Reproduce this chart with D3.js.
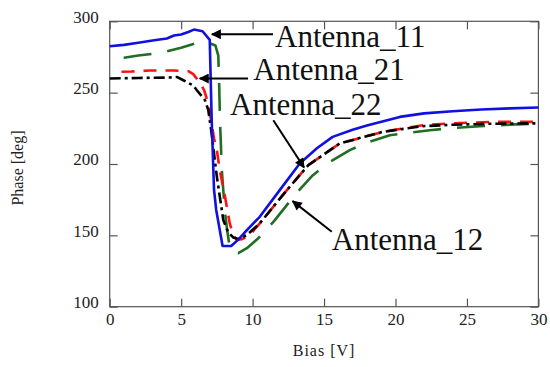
<!DOCTYPE html>
<html>
<head>
<meta charset="utf-8">
<script src="https://cdn.jsdelivr.net/npm/d3@7"></script>
<style>
  body { margin: 0; background: #fff; }
</style>
</head>
<body>
<div id="chart"></div>
<script>
// bias [V] and phase [deg]
var bias11 = [0, 1, 2, 3, 4, 4.5, 5, 5.5, 5.9, 6.5, 7.0, 7.14, 7.3, 7.45, 7.9, 8.5, 9.0, 9.6, 10.5, 11.9, 13.3, 14.5, 15.6, 17, 18, 20.3, 22, 24, 26, 28, 30];
var phase11 = [282.5, 283.5, 285, 286.5, 288, 290, 290.8, 292.5, 294.2, 293, 287, 230, 182, 168, 142.5, 142.5, 147, 153.7, 163, 181.7, 200.4, 211, 219, 224, 227, 233, 235.5, 237, 238.2, 239, 239.6];

var bias12 = [0, 1, 2, 3, 4, 5, 6, 6.7, 7.4, 7.6, 7.65, 7.72, 7.85, 8.05, 8.2, 8.35, 8.45, 9.0, 9.6, 10.4, 11.5, 13.1, 14.2, 15.4, 16.8, 18, 19.6, 21, 22.4, 24, 25.9, 28, 30];
var phase12 = [274, 274.5, 276, 277.2, 279, 281.5, 284.5, 285.8, 283, 276, 260, 230, 195, 168, 155, 145, 139.5, 137.5, 141, 148, 160, 180, 192, 201.5, 209.7, 215, 220.2, 222, 223.7, 225.2, 226.5, 227.6, 228.4];

var bias21 = [0.2, 1.5, 2.8, 4.45, 5.5, 5.85, 6.3, 6.6, 6.9, 7.1, 7.3, 7.5, 7.7, 8.07, 8.4, 8.65, 8.9, 9.3, 9.8, 10.5, 12.4, 13.9, 16.1, 19.1, 21.9, 24, 26.6, 30];
var phase21 = [264.5, 264.8, 265.5, 265.5, 265, 263, 257, 252, 242.4, 230, 218, 209.7, 195.7, 177, 158.4, 150, 146.7, 147.5, 150.2, 158.4, 181.7, 199.2, 214.4, 222.5, 227.2, 228.5, 229.5, 229.5];

var bias22 = [0, 2, 4.2, 4.7, 5.15, 5.85, 6.1, 6.67, 6.9, 7.1, 7.5, 7.95, 8.3, 8.65, 9.0, 9.6, 10.5, 12.4, 13.9, 16.1, 19.1, 21.9, 24, 26.6, 30];
var phase22 = [259.9, 260.3, 260.6, 261, 258.7, 255, 251.7, 244.7, 237.7, 223.7, 191, 160.7, 152, 148.5, 147.5, 150.2, 158.4, 181.7, 199.2, 214.4, 222.5, 226.5, 227.5, 228.2, 228.5];

var xTicks = [0, 5, 10, 15, 20, 25, 30];
var yTicks = [100, 150, 200, 250, 300];

// label text, text anchor, arrow start, arrow tip (data units)
var labelNames = ["Antenna_11", "Antenna_21", "Antenna_22", "Antenna_12"];
var labelAt = [[11.57, 281.8], [10.05, 258.7], [8.42, 234.2], [15.54, 139.7]];
var arrowFrom = [[11.43, 290.9], [9.68, 259.9], [11.45, 230.7], [15.54, 152.5]];
var arrowTo = [[7.15, 290.9], [6.3, 259.9], [13.6, 197.5], [12.8, 174]];

var serif = "'Liberation Serif', 'Times New Roman', Times, serif";
var w = 550, h = 367;
var margin = { left: 109.7, right: 11.6, top: 21.3, bottom: 60.3 };

var svg = d3.select("#chart").append("svg").attr("width", w).attr("height", h);

var x = d3.scaleLinear().domain([0, 30]).range([margin.left, w - margin.right]);
var y = d3.scaleLinear().domain([100, 300]).range([h - margin.bottom, margin.top]);

var zip = function (xs, ys) {
    return xs.map(function (d, i) { return [d, ys[i]]; });
};

var series = [
    { data: zip(bias12, phase12), color: "#1f6e23", dash: "28,16", offset: 30 },
    { data: zip(bias21, phase21), color: "#ff1010", dash: "13,9", offset: 13 },
    { data: zip(bias22, phase22), color: "#000", dash: "11,4,3,4", offset: 0 },
    { data: zip(bias11, phase11), color: "#1010e0", dash: null, offset: 0 }
];

var line = d3.line()
    .x(function (d) { return x(d[0]); })
    .y(function (d) { return y(d[1]); });

// axes, ticks point inwards on all four sides
var styleAxis = function (g) {
    g.attr("font-family", null);
    g.select(".domain").remove();
    g.selectAll(".tick line").attr("stroke", "#555").attr("stroke-width", 1.2);
    g.selectAll(".tick text")
        .style("font-family", serif)
        .style("font-size", "17px")
        .attr("fill", "#222");
};

svg.append("g")
    .attr("transform", "translate(0," + y(100) + ")")
    .call(d3.axisBottom(x).tickValues(xTicks).tickSizeInner(-8).tickSizeOuter(0).tickPadding(6))
    .call(styleAxis);

svg.append("g")
    .attr("transform", "translate(0," + y(300) + ")")
    .call(d3.axisTop(x).tickValues(xTicks).tickSizeInner(-8).tickSizeOuter(0).tickFormat(""))
    .call(styleAxis);

svg.append("g")
    .attr("transform", "translate(" + x(0) + ",0)")
    .call(d3.axisLeft(y).tickValues(yTicks).tickSizeInner(-8).tickSizeOuter(0).tickPadding(11))
    .call(styleAxis)
    .selectAll(".tick text").attr("dy", "0.05em");

svg.append("g")
    .attr("transform", "translate(" + x(30) + ",0)")
    .call(d3.axisRight(y).tickValues(yTicks).tickSizeInner(-8).tickSizeOuter(0).tickFormat(""))
    .call(styleAxis);

svg.append("rect")
    .attr("x", x(0)).attr("y", y(300))
    .attr("width", x(30) - x(0)).attr("height", y(100) - y(300))
    .attr("fill", "none").attr("stroke", "#555").attr("stroke-width", 1.2);

svg.append("g")
    .selectAll("path")
    .data(series)
    .enter().append("path")
    .attr("d", function (s) { return line(s.data); })
    .attr("fill", "none")
    .attr("stroke", function (s) { return s.color; })
    .attr("stroke-width", 2.6)
    .attr("stroke-linejoin", "round")
    .attr("stroke-dasharray", function (s) { return s.dash; })
    .attr("stroke-dashoffset", function (s) { return s.offset; });

// annotation arrows
svg.append("defs").append("marker")
    .attr("id", "head")
    .attr("viewBox", "0 0 10 10")
    .attr("refX", 9).attr("refY", 5)
    .attr("markerWidth", 6).attr("markerHeight", 5)
    .attr("markerUnits", "strokeWidth")
    .attr("orient", "auto")
    .append("path").attr("d", "M0,0L10,5L0,10z").attr("fill", "#000");

var notes = labelNames.map(function (t, i) {
    return { text: t, at: labelAt[i], from: arrowFrom[i], to: arrowTo[i] };
});

svg.append("g")
    .selectAll("line")
    .data(notes)
    .enter().append("line")
    .attr("x1", function (d) { return x(d.from[0]); })
    .attr("y1", function (d) { return y(d.from[1]); })
    .attr("x2", function (d) { return x(d.to[0]); })
    .attr("y2", function (d) { return y(d.to[1]); })
    .attr("stroke", "#000")
    .attr("stroke-width", 2)
    .attr("marker-end", "url(#head)");

svg.append("g")
    .selectAll("text")
    .data(notes)
    .enter().append("text")
    .attr("x", function (d) { return x(d.at[0]); })
    .attr("y", function (d) { return y(d.at[1]); })
    .style("font-family", serif)
    .style("font-size", "31px")
    .attr("fill", "#111")
    .text(function (d) { return d.text; });

// axis titles
svg.append("text")
    .attr("x", (x(0) + x(30)) / 2)
    .attr("y", 356)
    .attr("text-anchor", "middle")
    .style("font-family", serif)
    .style("font-size", "16px")
    .style("letter-spacing", "1px")
    .attr("fill", "#222")
    .text("Bias [V]");

svg.append("text")
    .attr("transform", "translate(23," + (y(200) + 4) + ") rotate(-90)")
    .attr("text-anchor", "middle")
    .style("font-family", serif)
    .style("font-size", "16px")
    .attr("fill", "#222")
    .text("Phase [deg]");
</script>
</body>
</html>
